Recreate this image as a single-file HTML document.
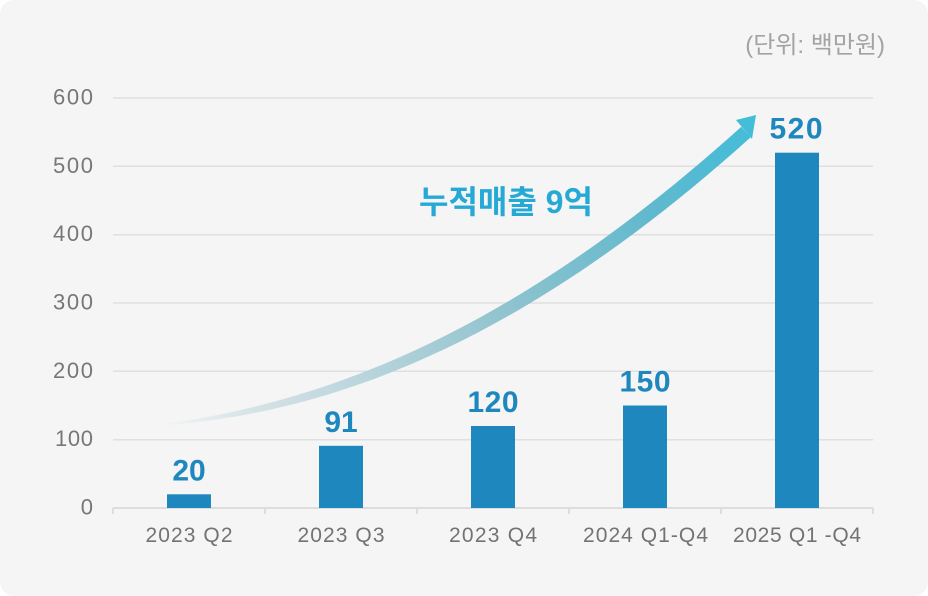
<!DOCTYPE html>
<html>
<head>
<meta charset="utf-8">
<style>
  html,body{margin:0;padding:0;background:#ffffff;}
  svg{display:block;}
  .yl{font-family:"Liberation Sans",sans-serif;font-size:22px;fill:#777777;}
  .xl{font-family:"Liberation Sans",sans-serif;font-size:21px;fill:#737373;}
  .vl{font-family:"Liberation Sans",sans-serif;font-size:30px;font-weight:bold;fill:#1e88be;}
</style>
</head>
<body>
<svg width="928" height="596" viewBox="0 0 928 596" xmlns="http://www.w3.org/2000/svg">
  <defs>
    <linearGradient id="ag" gradientUnits="userSpaceOnUse" x1="160" y1="425" x2="756" y2="120">
      <stop offset="0" stop-color="#f3f5f6"/>
      <stop offset="0.13" stop-color="#d6e3e7"/>
      <stop offset="0.3" stop-color="#bad5dc"/>
      <stop offset="0.52" stop-color="#93c4cf"/>
      <stop offset="0.79" stop-color="#62b9cd"/>
      <stop offset="0.93" stop-color="#4cbbd5"/>
      <stop offset="1" stop-color="#44bdd9"/>
    </linearGradient>
  </defs>
  <rect x="0" y="0" width="928" height="596" rx="14" ry="14" fill="#f5f5f5"/>

  <!-- unit -->
  <text x="885" y="53" text-anchor="end" font-family="'Liberation Sans','Noto Sans CJK KR',sans-serif" font-size="24" fill="#a3a3a3">(단위: 백만원)</text>

  <!-- gridlines -->
  <g stroke="#e0e0e0" stroke-width="1.5">
    <line x1="113" y1="98" x2="873" y2="98"/>
    <line x1="113" y1="166.3" x2="873" y2="166.3"/>
    <line x1="113" y1="234.7" x2="873" y2="234.7"/>
    <line x1="113" y1="303" x2="873" y2="303"/>
    <line x1="113" y1="371.3" x2="873" y2="371.3"/>
    <line x1="113" y1="439.7" x2="873" y2="439.7"/>
  </g>
  <!-- axis -->
  <g stroke="#dddddd" stroke-width="2">
    <line x1="113" y1="508" x2="873" y2="508"/>
    <line x1="113" y1="508" x2="113" y2="514"/>
    <line x1="265" y1="508" x2="265" y2="514"/>
    <line x1="417" y1="508" x2="417" y2="514"/>
    <line x1="569" y1="508" x2="569" y2="514"/>
    <line x1="721" y1="508" x2="721" y2="514"/>
    <line x1="873" y1="508" x2="873" y2="514"/>
  </g>

  <!-- y labels -->
  <text class="yl" x="93" y="104.5" text-anchor="end" textLength="40" lengthAdjust="spacing">600</text>
  <text class="yl" x="93" y="172.8" text-anchor="end" textLength="40" lengthAdjust="spacing">500</text>
  <text class="yl" x="93" y="241.2" text-anchor="end" textLength="40" lengthAdjust="spacing">400</text>
  <text class="yl" x="93" y="309.5" text-anchor="end" textLength="40" lengthAdjust="spacing">300</text>
  <text class="yl" x="93" y="377.8" text-anchor="end" textLength="40" lengthAdjust="spacing">200</text>
  <text class="yl" x="93" y="446.2" text-anchor="end" textLength="38" lengthAdjust="spacing">100</text>
  <text class="yl" x="93" y="514.5" text-anchor="end">0</text>

  <!-- arrow -->
  <path d="M159.95,424.5 C359.3,398 541.3,306.8 741.3,126.8 L750.7,137.2 C550.7,317.2 360.7,412 160.05,425.5 Z" fill="url(#ag)"/>
  <polygon points="756,115 736,120 752,139" fill="#44bdd9"/>

  <!-- title -->
  <text x="419" y="213" font-family="'Liberation Sans','Noto Sans CJK KR',sans-serif" font-size="32" font-weight="bold" fill="#27a9d6">누적매출 9억</text>

  <!-- bars -->
  <g fill="#1e88be">
    <rect x="167" y="494.3" width="44" height="13.7"/>
    <rect x="319" y="445.8" width="44" height="62.2"/>
    <rect x="471" y="426" width="44" height="82"/>
    <rect x="623" y="405.5" width="44" height="102.5"/>
    <rect x="775" y="152.7" width="44" height="355.3"/>
  </g>

  <!-- value labels -->
  <text class="vl" x="189" y="480.5" text-anchor="middle">20</text>
  <text class="vl" x="341" y="432" text-anchor="middle">91</text>
  <text class="vl" x="493" y="412" text-anchor="middle" textLength="51" lengthAdjust="spacing">120</text>
  <text class="vl" x="645" y="391.5" text-anchor="middle" textLength="51" lengthAdjust="spacing">150</text>
  <text class="vl" x="796" y="138.5" text-anchor="middle" textLength="53" lengthAdjust="spacing">520</text>

  <!-- x labels -->
  <text class="xl" x="189" y="542" text-anchor="middle" textLength="87" lengthAdjust="spacing">2023 Q2</text>
  <text class="xl" x="341" y="542" text-anchor="middle" textLength="87" lengthAdjust="spacing">2023 Q3</text>
  <text class="xl" x="493" y="542" text-anchor="middle" textLength="88" lengthAdjust="spacing">2023 Q4</text>
  <text class="xl" x="645.5" y="542" text-anchor="middle" textLength="125" lengthAdjust="spacing">2024 Q1-Q4</text>
  <text class="xl" x="797" y="542" text-anchor="middle" textLength="128" lengthAdjust="spacing">2025 Q1 -Q4</text>
</svg>
</body>
</html>
